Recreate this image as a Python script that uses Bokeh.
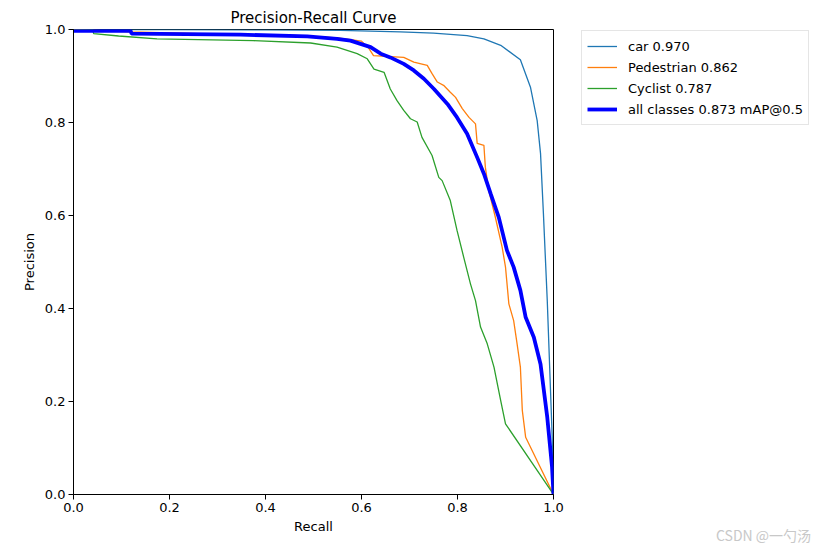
from bokeh.plotting import figure
from bokeh.models import Legend, LegendItem, FixedTicker, PrintfTickFormatter, Range1d, Div
from bokeh.layouts import column
from bokeh.embed import file_html
from bokeh.resources import INLINE

# ---- data ----
car_r = [0.0, 0.2, 0.4, 0.556, 0.681, 0.75, 0.82, 0.855, 0.89, 0.931, 0.952, 0.966, 0.973, 0.979, 0.987, 0.997, 1.0]
car_p = [1.0, 1.0, 0.999, 0.998, 0.995, 0.992, 0.987, 0.980, 0.966, 0.935, 0.876, 0.804, 0.733, 0.604, 0.417, 0.131, 0.0]

ped_r = [0.0, 0.12, 0.3, 0.45, 0.55, 0.6, 0.615, 0.625, 0.688, 0.709, 0.737, 0.747, 0.758, 0.771, 0.785, 0.796,
         0.81, 0.824, 0.8375, 0.841, 0.855, 0.858, 0.865, 0.878, 0.893, 0.9, 0.907, 0.917, 0.924, 0.931, 0.935, 0.942, 1.0]
ped_p = [1.0, 0.995, 0.99, 0.988, 0.982, 0.975, 0.96, 0.944, 0.940, 0.930, 0.923, 0.905, 0.887, 0.880, 0.865, 0.854,
         0.830, 0.811, 0.797, 0.755, 0.751, 0.704, 0.654, 0.60, 0.532, 0.489, 0.410, 0.374, 0.325, 0.274, 0.181, 0.123, 0.0]

cyc_r = [0.0, 0.04, 0.042, 0.094, 0.174, 0.375, 0.494, 0.549, 0.591, 0.612, 0.626, 0.647, 0.660, 0.674, 0.688, 0.702,
         0.716, 0.726, 0.747, 0.761, 0.768, 0.785, 0.799, 0.813, 0.827, 0.8375, 0.848, 0.862, 0.876, 0.89, 0.9, 1.0]
cyc_p = [1.0, 1.0, 0.991, 0.986, 0.980, 0.976, 0.971, 0.962, 0.948, 0.937, 0.915, 0.908, 0.872, 0.847, 0.826, 0.808,
         0.801, 0.768, 0.729, 0.682, 0.675, 0.632, 0.568, 0.510, 0.453, 0.417, 0.360, 0.324, 0.274, 0.202, 0.152, 0.0]

all_r = [0.0, 0.119, 0.121, 0.348, 0.487, 0.549, 0.577, 0.598, 0.619, 0.640, 0.660, 0.688, 0.709, 0.730, 0.751, 0.779,
         0.799, 0.820, 0.841, 0.855, 0.869, 0.886, 0.903, 0.917, 0.931, 0.942, 0.959, 0.973, 0.987, 0.997, 1.0]
all_p = [0.997, 0.997, 0.991, 0.989, 0.985, 0.980, 0.976, 0.969, 0.962, 0.948, 0.940, 0.926, 0.912, 0.894, 0.872, 0.840,
         0.811, 0.776, 0.725, 0.690, 0.647, 0.596, 0.525, 0.489, 0.439, 0.381, 0.338, 0.280, 0.166, 0.059, 0.0]

labels = ["car 0.970", "Pedestrian 0.862", "Cyclist 0.787", "all classes 0.873 mAP@0.5"]
ticks = [0.0, 0.2, 0.4, 0.6, 0.8, 1.0]
watermark = "CSDN @一勺汤"

FONT = "DejaVu Sans"

p = figure(width=817, height=534, output_backend="svg", toolbar_location=None,
           x_range=Range1d(0, 1), y_range=Range1d(0, 1),
           frame_width=480, frame_height=465,
           min_border_left=73, min_border_top=29, min_border_bottom=30, min_border_right=264,
           title="Precision-Recall Curve")
p.title.text_font = FONT
p.title.text_font_size = "15px"
p.title.text_font_style = "normal"
p.title.text_color = "black"
p.title.align = "center"
p.title.standoff = 5

p.grid.visible = False
p.outline_line_color = "black"
p.outline_line_width = 1
p.background_fill_color = "white"
p.border_fill_color = "white"

for ax in (p.xaxis[0], p.yaxis[0]):
    ax.ticker = FixedTicker(ticks=ticks)
    ax.formatter = PrintfTickFormatter(format="%.1f")
    ax.major_label_text_font = FONT
    ax.major_label_text_font_size = "13px"
    ax.major_label_text_color = "black"
    ax.axis_label_text_font = FONT
    ax.axis_label_text_font_size = "13px"
    ax.axis_label_text_font_style = "normal"
    ax.axis_label_text_color = "black"
    ax.minor_tick_line_color = None
    ax.major_tick_out = 5
    ax.major_tick_in = 0
    ax.axis_line_color = "black"
    ax.major_tick_line_color = "black"
p.xaxis.axis_label = "Recall"
p.yaxis.axis_label = "Precision"
p.xaxis.major_label_standoff = 3
p.yaxis.major_label_standoff = 3
p.xaxis.axis_label_standoff = 4
p.yaxis.axis_label_standoff = 5

r1 = p.line(car_r, car_p, line_color="#1f77b4", line_width=1.3)
r2 = p.line(ped_r, ped_p, line_color="#ff7f0e", line_width=1.3)
r3 = p.line(cyc_r, cyc_p, line_color="#2ca02c", line_width=1.3)
r4 = p.line(all_r, all_p, line_color="#0000ff", line_width=3.8)

legend = Legend(items=[LegendItem(label=l, renderers=[r]) for l, r in zip(labels, [r1, r2, r3, r4])],
                location=(28, 369))
legend.label_text_font = FONT
legend.label_text_font_size = "13px"
legend.label_text_color = "black"
legend.glyph_width = 30
legend.glyph_height = 20
legend.label_height = 20
legend.label_standoff = 11
legend.spacing = 1
legend.padding = 5
legend.margin = 0
legend.border_line_color = "#cccccc"
legend.border_line_width = 1
legend.background_fill_color = "white"
legend.background_fill_alpha = 1
p.add_layout(legend, "right")

wm = Div(text=watermark, margin=(-9, 0, 0, 716),
         styles={"color": "#c8c8c8", "font-family": "Noto Sans CJK SC", "font-size": "14px",
                 "line-height": "16px"})

layout = column(p, wm)
open("out.html", "w").write(file_html(layout, INLINE))
